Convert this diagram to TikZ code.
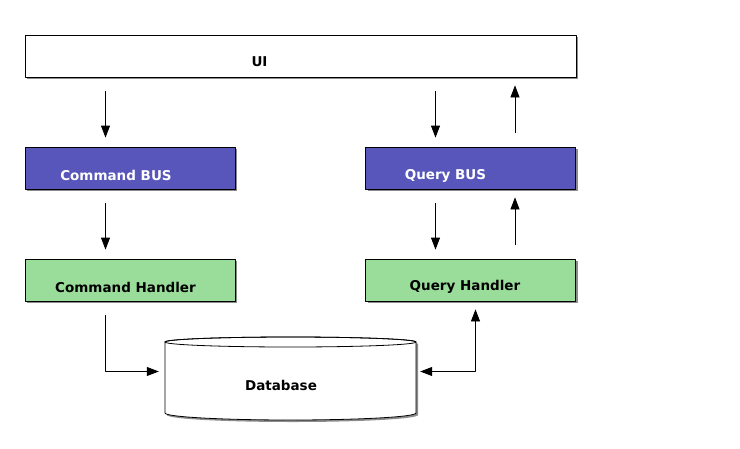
\documentclass[tikz,border=0pt]{standalone}
\usepackage{fontspec}
\setmainfont{DejaVu Sans}
\usepackage{tikz}
\usetikzlibrary{arrows.meta,shadows}
\definecolor{busblue}{HTML}{5856BA}
\definecolor{handgreen}{HTML}{9ADD9A}

\begin{document}
\begin{tikzpicture}[line cap=round,line join=round,>={Triangle[length=12pt,width=9pt]},x=1pt,y=-1pt,
  shade/.style={drop shadow={shadow xshift=2pt,shadow yshift=-2pt,fill=black!45,opacity=1}},
  box/.style={draw,line width=0.8pt,minimum height=42pt,inner sep=0pt,shade},
  txt/.style={font=\fontsize{13.5}{16}\selectfont\bfseries},
  flow/.style={->,line width=0.8pt}]
\useasboundingbox (0,0) rectangle (740,448);
% boxes
\node[box,fill=white,minimum width=551pt] (ui) at (300.5,56) {};
\node[txt] at (259.5,62) {UI};
\node[box,fill=busblue,minimum width=210pt] (cbus) at (130,168) {};
\node[txt,white] at (116,175.5) {Command BUS};
\node[box,fill=busblue,minimum width=210pt] (qbus) at (470.5,168) {};
\node[txt,white] at (445.5,175.5) {Query BUS};
\node[box,fill=handgreen,minimum width=210pt] (chand) at (130,280) {};
\node[txt] at (125.5,287) {Command Handler};
\node[box,fill=handgreen,minimum width=210pt] (qhand) at (470.5,280) {};
\node[txt] at (465,287) {Query Handler};
% database
\draw[line width=0.8pt,fill=white,shade]
  (165,342) -- (165,413) arc[start angle=180,end angle=360,x radius=125.5pt,y radius=7pt]
  -- (416,342) arc[start angle=0,end angle=180,x radius=125.5pt,y radius=5pt] -- cycle;
\draw[line width=0.8pt] (290.5,342) ellipse[x radius=125.5pt,y radius=5pt];
\node[minimum width=251pt,minimum height=71pt,inner sep=0pt] (db) at (290.5,377.5) {};
\node[txt] at (281,385) {Database};
% arrows
\coordinate (cl) at (105.5,0);
\coordinate (ql) at (435.5,0);
\coordinate (qr) at (515,0);
\coordinate (qd) at (475.5,0);
\draw[flow,shorten <=14pt,shorten >=9pt] (cl |- ui.south) -- (cl |- cbus.north);
\draw[flow,shorten <=14pt,shorten >=9pt] (ql |- ui.south) -- (ql |- qbus.north);
\draw[flow,shorten <=14pt,shorten >=8pt] (qr |- qbus.north) -- (qr |- ui.south);
\draw[flow,shorten <=14pt,shorten >=9pt] (cl |- cbus.south) -- (cl |- chand.north);
\draw[flow,shorten <=14pt,shorten >=9pt] (ql |- qbus.south) -- (ql |- qhand.north);
\draw[flow,shorten <=14pt,shorten >=8pt] (qr |- qhand.north) -- (qr |- qbus.south);
\draw[flow,shorten <=14pt,shorten >=6pt] (cl |- chand.south) |- ([yshift=6pt]db.west);
\draw[flow,<->,shorten <=4pt,shorten >=8pt] ([yshift=6pt]db.east) -| (qd |- qhand.south);
\end{tikzpicture}
\end{document}
